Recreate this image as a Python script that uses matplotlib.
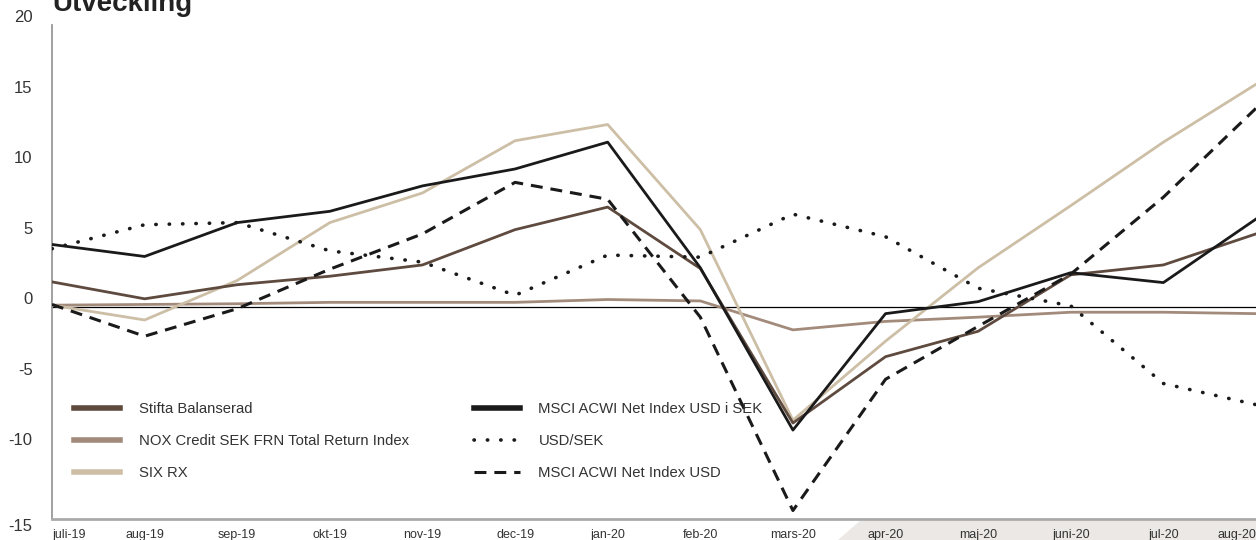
import matplotlib.pyplot as plt
from matplotlib.patches import Polygon

plt.rcParams['font.family'] = ['Liberation Sans', 'DejaVu Sans']

# Månadsvis utveckling (%)
manader = ["juli-19", "aug-19", "sep-19", "okt-19", "nov-19", "dec-19", "jan-20",
           "feb-20", "mars-20", "apr-20", "maj-20", "juni-20", "jul-20", "aug-20"]
stifta = [1.8, 0.6, 1.6, 2.2, 3.0, 5.5, 7.1, 2.75, -8.2, -3.5, -1.7, 2.3, 3.0, 5.2]
nox = [0.15, 0.2, 0.25, 0.35, 0.35, 0.35, 0.55, 0.45, -1.6, -1.0, -0.7, -0.35, -0.35, -0.45]
six_rx = [0.15, -0.9, 1.9, 6.0, 8.1, 11.8, 12.95, 5.5, -8.0, -2.4, 2.8, 7.2, 11.7, 15.8]
msci_sek = [4.45, 3.6, 6.0, 6.8, 8.6, 9.8, 11.7, 2.8, -8.7, -0.45, 0.4, 2.45, 1.75, 6.25]
usd_sek = [4.15, 5.85, 6.0, 4.0, 3.2, 0.85, 3.7, 3.55, 6.6, 5.0, 1.35, 0.1, -5.4, -6.9]
msci_usd = [0.2, -2.05, -0.1, 2.7, 5.2, 8.85, 7.65, -0.7, -14.4, -5.1, -1.35, 2.35, 7.8, 14.1]
y_ticks = [-15, -10, -5, 0, 5, 10, 15, 20]

x = list(range(len(manader)))

fig = plt.figure(figsize=(12.56, 5.4), dpi=100)
ax = fig.add_axes([52 / 1256, 21 / 540, 1 - 52 / 1256, 494 / 540])

# grå platta under de senaste månaderna
fig.patches.append(Polygon([(838 / 1256, 0), (860 / 1256, 19 / 540), (1, 19 / 540), (1, 0)],
                           closed=True, transform=fig.transFigure, facecolor="#ebe8e5",
                           edgecolor="none", zorder=-1))

ax.axhline(0, color="black", lw=0.9, zorder=1)

ax.plot(x, stifta, color="#5e4a3e", lw=2.0, label="Stifta Balanserad", zorder=3)
ax.plot(x, nox, color="#a38b7c", lw=2.0, label="NOX Credit SEK FRN Total Return Index", zorder=2)
ax.plot(x, six_rx, color="#cdbfa6", lw=2.0, label="SIX RX", zorder=2)
ax.plot(x, msci_sek, color="#1a1a1a", lw=2.0, label="MSCI ACWI Net Index USD i SEK", zorder=4)
ax.plot(x, usd_sek, color="#1a1a1a", lw=2.6, linestyle=(0, (0.1, 3.6)),
        dash_capstyle="round", label="USD/SEK", zorder=4)
ax.plot(x, msci_usd, color="#1a1a1a", lw=2.2, linestyle=(0, (3.9, 2.6)),
        label="MSCI ACWI Net Index USD", zorder=4)

ax.set_xlim(0, len(manader) - 1)
ax.set_ylim(-15, 20)
ax.set_xticks(x)
ax.set_xticklabels(manader, fontsize=9, color="#333333")
ax.set_yticks(y_ticks)
ax.set_yticklabels([str(v) for v in y_ticks], fontsize=12, color="#333333")
ax.tick_params(axis="both", length=0)
ax.tick_params(axis="x", pad=7)
ax.tick_params(axis="y", pad=14)

xl = ax.get_xticklabels()
xl[0].set_ha("left")
xl[-1].set_ha("right")
for t in ax.get_yticklabels():
    t.set_va("bottom")
ax.get_yticklabels()[0].set_va("top")

for s in ["top", "right"]:
    ax.spines[s].set_visible(False)
ax.spines["left"].set_color("#999999")
ax.spines["left"].set_linewidth(1.3)
ax.spines["bottom"].set_color("#aaaaaa")
ax.spines["bottom"].set_linewidth(2.0)

leg = ax.legend(ncol=2, loc="upper left", bbox_to_anchor=(9 / 1204, 1 - 364 / 494),
                frameon=False, fontsize=10.7, handlelength=3.1, handletextpad=1.25,
                columnspacing=4.35, labelspacing=1.2)
for t in leg.get_texts():
    t.set_color("#333333")
for h in leg.get_lines():
    if h.get_linestyle() == "-":
        h.set_linewidth(4)

fig.text(52 / 1256, 1 - 11 / 540, "Utveckling", fontsize=20, fontweight="bold",
         color="#222222", va="baseline", ha="left")

fig.savefig("out.png", dpi=100)
